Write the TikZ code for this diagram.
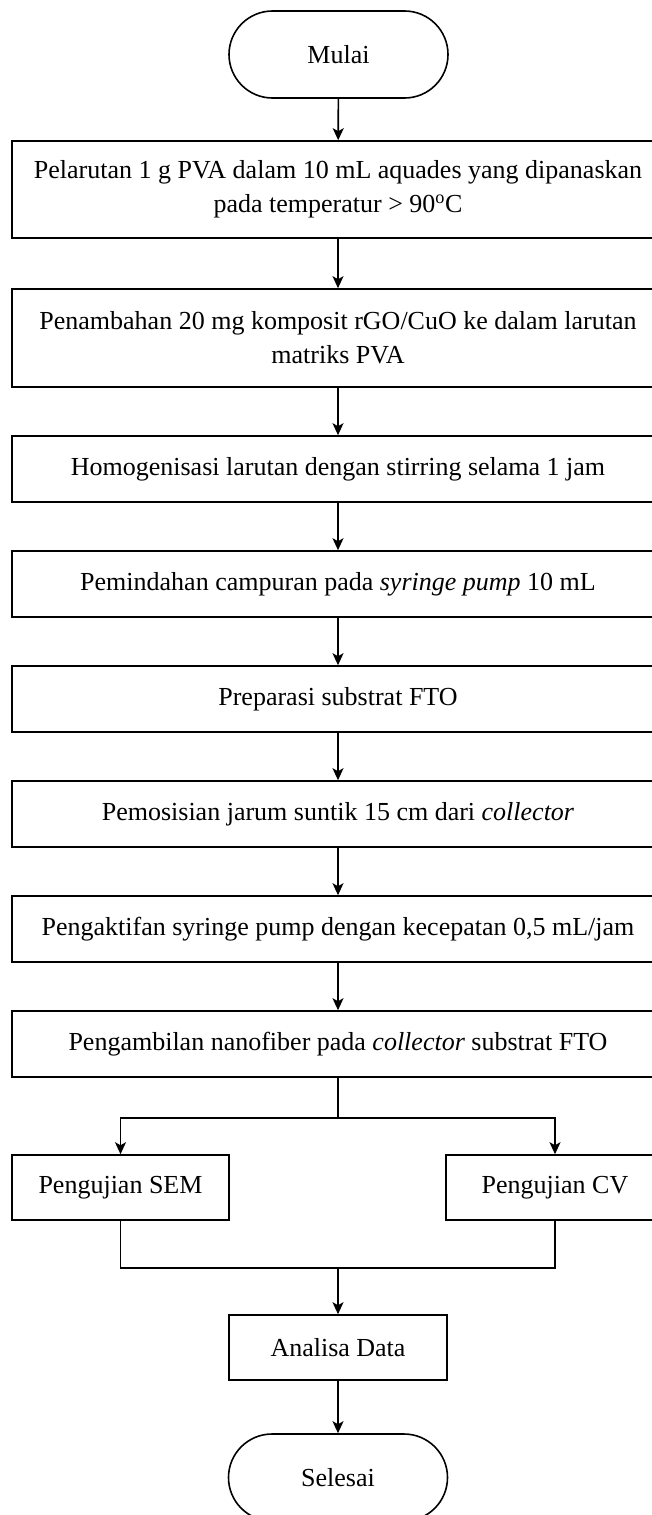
\documentclass[tikz,border=0pt]{standalone}
\usepackage{fontspec}
\setmainfont{Liberation Serif}
\usetikzlibrary{arrows.meta}
\tikzset{>={Stealth[length=12pt,width=11pt,inset=3pt]}}
\tikzset{
	proc/.style={draw, minimum width=652pt, minimum height=66pt, align=center, inner sep=0pt, font=\fontsize{26}{34}\selectfont},
	term/.style={proc, rounded corners=43.5pt, minimum width=219pt, minimum height=87pt}
}

\begin{document}
\begin{tikzpicture}[x=1pt, y=-1pt, line width=1.6pt]
	\useasboundingbox (0,0) rectangle (652,1515);
	\clip (0,0) rectangle (652,1515);
	\node[term] (mulai) at (338.5,54.5) {Mulai};
	\node[proc, minimum height=97pt] (b1) at (338,189.5) {Pelarutan 1 g PVA dalam 10 mL aquades yang dipanaskan\\ pada temperatur > 90\textsuperscript{o}C};
	\node[proc, minimum height=98pt] (b2) at (338,338) {Penambahan 20 mg komposit rGO/CuO ke dalam larutan\\ matriks PVA};
	\node[proc] (b3) at (338,469) {Homogenisasi larutan dengan stirring selama 1 jam};
	\node[proc] (b4) at (338,584) {Pemindahan campuran pada \textit{syringe pump} 10 mL};
	\node[proc] (b5) at (338,699) {Preparasi substrat FTO};
	\node[proc] (b6) at (338,814) {Pemosisian jarum suntik 15 cm dari \textit{collector}};
	\node[proc] (b7) at (338,929) {Pengaktifan syringe pump dengan kecepatan 0,5 mL/jam};
	\node[proc] (b8) at (338,1044) {Pengambilan nanofiber pada \textit{collector} substrat FTO};
	\node[proc, minimum width=217pt, minimum height=65pt] (sem) at (120.5,1187.5) {Pengujian SEM};
	\node[proc, minimum width=218pt, minimum height=65pt] (cv) at (555,1187.5) {Pengujian CV};
	\node[proc, minimum width=218pt, minimum height=65pt] (analisa) at (338,1347.5) {Analisa Data};
	\node[term] (selesai) at (338,1477.5) {Selesai};
	\coordinate (split) at (338,1118);
	\coordinate (join) at (338,1268);

	\foreach \a/\b in {mulai/b1, b1/b2, b2/b3, b3/b4, b4/b5, b5/b6, b6/b7, b7/b8, analisa/selesai}
	\draw[->] (\a) -- (\b);
	\draw (b8) -- (split);
	\draw[->] (split) -| (sem);
	\draw[->] (split) -| (cv);
	\draw (sem) |- (join) -| (cv);
	\draw[->] (join) -- (analisa);
\end{tikzpicture}
\end{document}
